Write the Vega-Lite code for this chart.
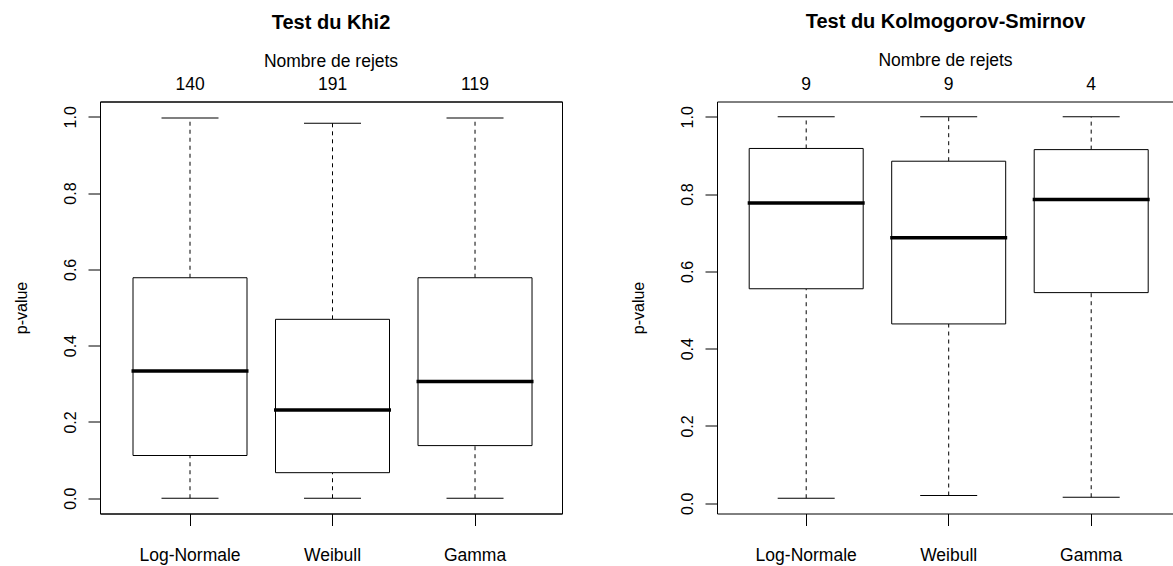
{
  "$schema": "https://vega.github.io/schema/vega-lite/v6.json",
  "background": "white",
  "padding": {"left": 12, "top": 11.5, "right": 0, "bottom": 0},
  "spacing": 155,
  "bounds": "flush",
  "datasets": {
    "khi2": [
      {"loi": "Log-Normale", "min": 0.0, "q1": 0.112, "med": 0.3335, "q3": 0.578, "max": 0.997, "rejets": "140"},
      {"loi": "Weibull", "min": 0.0, "q1": 0.067, "med": 0.231, "q3": 0.469, "max": 0.983, "rejets": "191"},
      {"loi": "Gamma", "min": 0.0, "q1": 0.138, "med": 0.306, "q3": 0.578, "max": 0.997, "rejets": "119"}
    ],
    "ks": [
      {"loi": "Log-Normale", "min": 0.013, "q1": 0.555, "med": 0.777, "q3": 0.918, "max": 1.0, "rejets": "9"},
      {"loi": "Weibull", "min": 0.020, "q1": 0.464, "med": 0.687, "q3": 0.885, "max": 1.0, "rejets": "9"},
      {"loi": "Gamma", "min": 0.0156, "q1": 0.545, "med": 0.786, "q3": 0.915, "max": 1.0, "rejets": "4"}
    ]
  },
  "hconcat": [
    {
      "data": {"name": "khi2"},
      "width": 462,
      "height": 412,
      "title": {"text": "Test du Khi2", "subtitle": "Nombre de rejets"},
      "resolve": {"axis": {"x": "independent"}},
      "layer": [
        {"mark": {"type": "rule", "color": "black", "strokeWidth": 1, "strokeDash": [4, 4]},
         "encoding": {
           "x": {"field": "loi", "type": "nominal", "sort": null, "title": null,
                 "scale": {"type": "band", "paddingInner": 0.2, "paddingOuter": 0.221, "align": 0.524}},
           "y": {"field": "q3", "type": "quantitative", "title": "p-value",
                 "scale": {"domain": [-0.04, 1.04], "nice": false, "zero": false},
                 "axis": {"values": [0, 0.2, 0.4, 0.6, 0.8, 1], "format": ".1f", "titleX": -73.6, "titleY": 206}},
           "y2": {"field": "max"}}},
        {"mark": {"type": "rule", "color": "black", "strokeWidth": 1, "strokeDash": [4, 4]},
         "encoding": {
           "x": {"field": "loi", "type": "nominal", "sort": null, "axis": null},
           "y": {"field": "min", "type": "quantitative", "title": "p-value"}, "y2": {"field": "q1"}}},
        {"mark": {"type": "bar", "fill": "white", "stroke": "black", "strokeWidth": 1, "opacity": 1},
         "encoding": {
           "x": {"field": "loi", "type": "nominal", "sort": null, "axis": null},
           "y": {"field": "q1", "type": "quantitative", "title": "p-value"}, "y2": {"field": "q3"}}},
        {"mark": {"type": "tick", "color": "black", "opacity": 1, "thickness": 3.5, "size": 117},
         "encoding": {
           "x": {"field": "loi", "type": "nominal", "sort": null, "axis": null},
           "y": {"field": "med", "type": "quantitative", "title": "p-value"}}},
        {"mark": {"type": "tick", "color": "black", "opacity": 1, "thickness": 1, "size": 57},
         "encoding": {
           "x": {"field": "loi", "type": "nominal", "sort": null, "axis": null},
           "y": {"field": "max", "type": "quantitative", "title": "p-value"}}},
        {"mark": {"type": "tick", "color": "black", "opacity": 1, "thickness": 1, "size": 57},
         "encoding": {
           "x": {"field": "loi", "type": "nominal", "sort": null, "axis": null},
           "y": {"field": "min", "type": "quantitative", "title": "p-value"}}},
        {"mark": {"type": "text", "fontSize": 17.5, "font": "Liberation Sans", "baseline": "alphabetic", "align": "center", "color": "black", "clip": false},
         "encoding": {
           "x": {"field": "loi", "type": "nominal", "sort": null, "title": null,
                 "axis": {"orient": "top", "labels": false, "ticks": false, "domain": true}},
           "y": {"datum": 1.07, "type": "quantitative", "title": "p-value"},
           "text": {"field": "rejets"}}}
      ]
    },
    {
      "data": {"name": "ks"},
      "width": 457,
      "height": 412,
      "view": {"stroke": null},
      "title": {"text": "Test du Kolmogorov-Smirnov", "subtitle": "Nombre de rejets"},
      "resolve": {"axis": {"x": "independent"}},
      "layer": [
        {"mark": {"type": "rule", "color": "black", "strokeWidth": 1, "strokeDash": [4, 4]},
         "encoding": {
           "x": {"field": "loi", "type": "nominal", "sort": null, "title": null,
                 "scale": {"type": "band", "paddingInner": 0.2, "paddingOuter": 0.2035, "align": 0.555}},
           "y": {"field": "q3", "type": "quantitative", "title": "p-value",
                 "scale": {"domain": [-0.0265, 1.0395], "nice": false, "zero": false},
                 "axis": {"values": [0, 0.2, 0.4, 0.6, 0.8, 1], "format": ".1f", "titleX": -73.6, "titleY": 206}},
           "y2": {"field": "max"}}},
        {"mark": {"type": "rule", "color": "black", "strokeWidth": 1, "strokeDash": [4, 4]},
         "encoding": {
           "x": {"field": "loi", "type": "nominal", "sort": null, "axis": null},
           "y": {"field": "min", "type": "quantitative", "title": "p-value"}, "y2": {"field": "q1"}}},
        {"mark": {"type": "bar", "fill": "white", "stroke": "black", "strokeWidth": 1, "opacity": 1},
         "encoding": {
           "x": {"field": "loi", "type": "nominal", "sort": null, "axis": null},
           "y": {"field": "q1", "type": "quantitative", "title": "p-value"}, "y2": {"field": "q3"}}},
        {"mark": {"type": "tick", "color": "black", "opacity": 1, "thickness": 3.5, "size": 117},
         "encoding": {
           "x": {"field": "loi", "type": "nominal", "sort": null, "axis": null},
           "y": {"field": "med", "type": "quantitative", "title": "p-value"}}},
        {"mark": {"type": "tick", "color": "black", "opacity": 1, "thickness": 1, "size": 57},
         "encoding": {
           "x": {"field": "loi", "type": "nominal", "sort": null, "axis": null},
           "y": {"field": "max", "type": "quantitative", "title": "p-value"}}},
        {"mark": {"type": "tick", "color": "black", "opacity": 1, "thickness": 1, "size": 57},
         "encoding": {
           "x": {"field": "loi", "type": "nominal", "sort": null, "axis": null},
           "y": {"field": "min", "type": "quantitative", "title": "p-value"}}},
        {"mark": {"type": "text", "fontSize": 17.5, "font": "Liberation Sans", "baseline": "alphabetic", "align": "center", "color": "black", "clip": false},
         "encoding": {
           "x": {"field": "loi", "type": "nominal", "sort": null, "title": null,
                 "axis": {"orient": "top", "labels": false, "ticks": false, "domain": true}},
           "y": {"datum": 1.07, "type": "quantitative", "title": "p-value"},
           "text": {"field": "rejets"}}}
      ]
    }
  ],
  "config": {
    "font": "Liberation Sans",
    "view": {"stroke": "black", "strokeWidth": 1},
    "title": {
      "font": "Liberation Sans", "fontSize": 20, "fontWeight": "bold", "color": "black",
      "subtitleFont": "Liberation Sans", "subtitleFontSize": 17.5, "subtitleColor": "black",
      "subtitlePadding": 20, "frame": "group", "anchor": "middle", "offset": 6
    },
    "axis": {
      "grid": false, "domainColor": "black", "tickColor": "black", "labelColor": "black", "titleColor": "black",
      "labelFont": "Liberation Sans", "titleFont": "Liberation Sans", "tickSize": 12, "domainWidth": 1, "tickWidth": 1
    },
    "axisY": {
      "labelAngle": 270, "labelAlign": "center", "labelBaseline": "alphabetic", "labelPadding": 13, "labelFontSize": 16,
      "titleFontSize": 16, "titleFontWeight": "normal", "titleAngle": 270, "titleBaseline": "alphabetic", "titleAlign": "center"
    },
    "axisX": {
      "labelAngle": 0, "labelFontSize": 17.5, "labelBaseline": "alphabetic", "labelPadding": 35
    }
  }
}
